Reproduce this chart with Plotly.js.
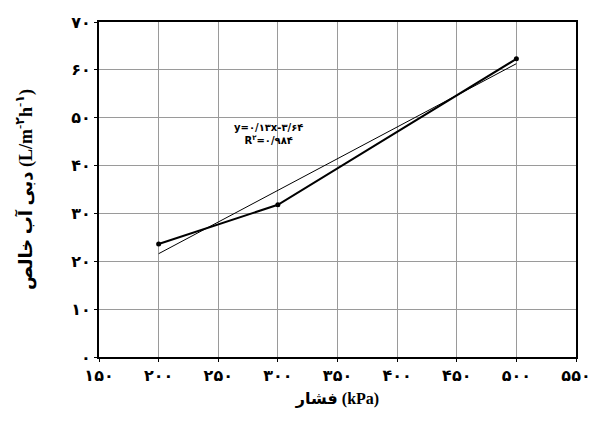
<!DOCTYPE html>
<html>
<head>
<meta charset="utf-8">
<script src="https://cdn.plot.ly/plotly-3.0.1.min.js"></script>
<style>html,body{margin:0;padding:0;background:#fff;}#chart{width:590px;height:437px;}</style>
</head>
<body>
<div id="chart"></div>
<script>
// Data
var pressure = [200, 300, 500];          // kPa
var flux = [23.6, 31.8, 62.3];            // L/m2h
var xTickVals = [150, 200, 250, 300, 350, 400, 450, 500, 550];
var xTickText = ['۱۵۰', '۲۰۰', '۲۵۰', '۳۰۰', '۳۵۰', '۴۰۰', '۴۵۰', '۵۰۰', '۵۵۰'];
var yTickVals = [0, 10, 20, 30, 40, 50, 60, 70];
var yTickText = ['۰', '۱۰', '۲۰', '۳۰', '۴۰', '۵۰', '۶۰', '۷۰'];
var eqText = 'y=۰/۱۳x-۳/۶۴<br>R<sup>۲</sup>=۰/۹۸۴';

// least-squares trend line from the data
var n = pressure.length, sx = 0, sy = 0, sxx = 0, sxy = 0;
for (var i = 0; i < n; i++) { sx += pressure[i]; sy += flux[i]; sxx += pressure[i]*pressure[i]; sxy += pressure[i]*flux[i]; }
var slope = (n*sxy - sx*sy) / (n*sxx - sx*sx);
var intercept = (sy - slope*sx) / n;
var trendX = [pressure[0], pressure[n-1]];
var trendY = trendX.map(function (x) { return slope*x + intercept; });

var FONT = 'Liberation Serif, DejaVu Sans, serif';

var traces = [
  {x: trendX, y: trendY, mode: 'lines', line: {color: '#000', width: 1}, showlegend: false, hoverinfo: 'skip'},
  {x: pressure, y: flux, mode: 'lines+markers', line: {color: '#000', width: 2},
   marker: {color: '#000', size: 5}, showlegend: false}
];

var axisCommon = {
  showline: true, linecolor: '#000', linewidth: 2, mirror: true,
  showgrid: true, gridcolor: '#9a9a9a', gridwidth: 1, zeroline: false,
  ticks: 'outside', ticklen: 3, tickcolor: '#000', tickwidth: 1,
  ticklabeloverflow: 'allow',
  tickfont: {family: 'DejaVu Sans, sans-serif', size: 16, color: '#000', weight: 'bold'}
};

var layout = {
  width: 590, height: 437,
  margin: {l: 99, r: 14, t: 22, b: 80},
  paper_bgcolor: '#fff', plot_bgcolor: '#fff',
  xaxis: Object.assign({}, axisCommon, {
    range: [150, 550], tickmode: 'array', tickvals: xTickVals, ticktext: xTickText,
    automargin: false,
    title: {text: 'فشار (kPa)', font: {family: FONT, size: 16, color: '#000', weight: 'bold'}, standoff: 9}
  }),
  yaxis: Object.assign({}, axisCommon, {
    range: [0, 70], tickmode: 'array', tickvals: yTickVals, ticktext: yTickText,
    automargin: false,
    title: {text: 'دبی آب خالص (L/m<sup>-۲</sup>h<sup>-۱</sup>)', font: {family: FONT, size: 18, color: '#000', weight: 'bold'}, standoff: 34}
  }),
  annotations: [{
    x: 292, y: 46.5, xref: 'x', yref: 'y', text: eqText, showarrow: false,
    font: {family: 'DejaVu Sans, sans-serif', size: 10, color: '#000', weight: 'bold'}, align: 'center'
  }]
};

Plotly.newPlot('chart', traces, layout, {displayModeBar: false, staticPlot: true});
</script>
</body>
</html>
